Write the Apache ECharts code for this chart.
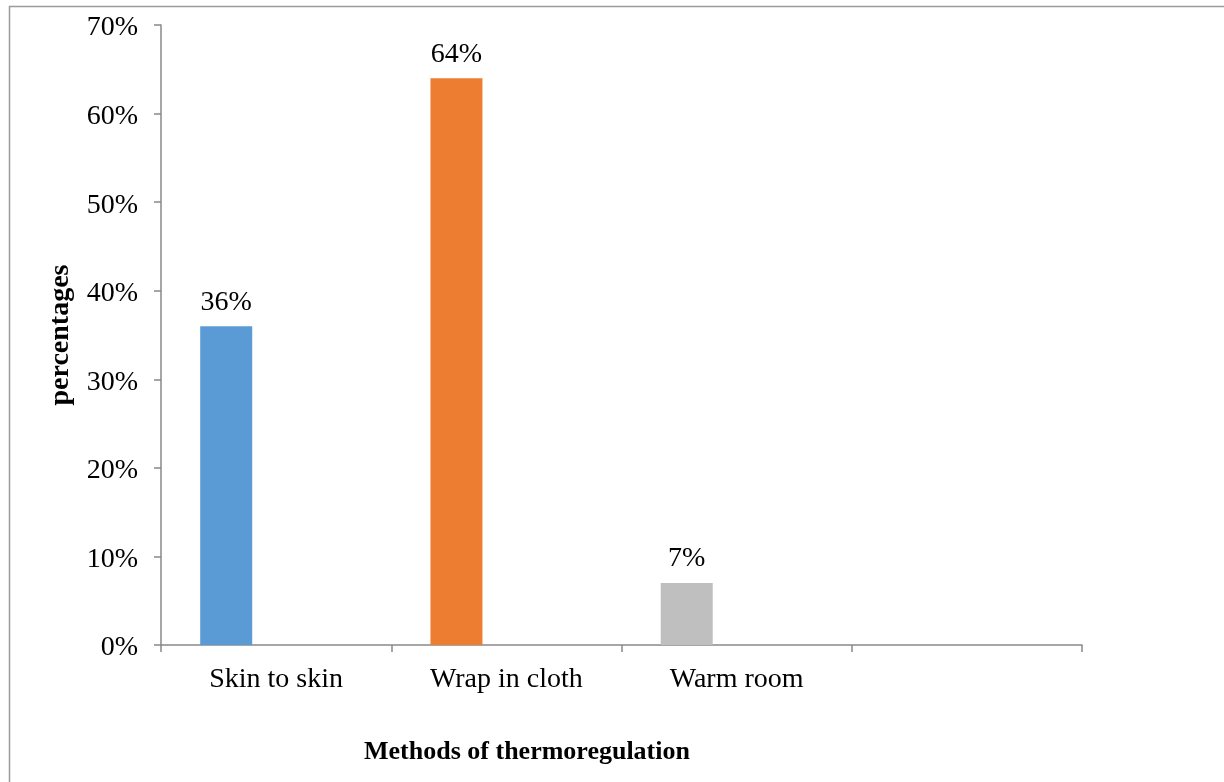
<!DOCTYPE html>
<html>
<head>
<meta charset="utf-8">
<script src="https://cdn.jsdelivr.net/npm/echarts@6/dist/echarts.min.js"></script>
<style>
  html, body { margin: 0; padding: 0; background: #fff; }
  #chart { width: 1224px; height: 782px; }
</style>
</head>
<body>
<div id="chart"></div>
<script>
// Share of respondents by method of thermoregulation
const categories = ['Skin to skin', 'Wrap in cloth', 'Warm room', ''];
const percentages = [36, 64, 7, null];
const barColors = ['#5B9BD5', '#ED7D31', '#BFBFBF', '#5B9BD5'];
const yTicks = [0, 10, 20, 30, 40, 50, 60, 70];

const serif = "'Liberation Serif', 'Times New Roman', serif";
const axisGray = '#898989';

const chart = echarts.init(document.getElementById('chart'), null, { renderer: 'canvas' });

chart.setOption({
  backgroundColor: '#ffffff',
  animation: false,
  grid: { left: 161, right: 142, top: 25, bottom: 137, containLabel: false },
  graphic: [
    {
      type: 'rect',
      shape: { x: 9.5, y: 6.5, width: 1400, height: 1000 },
      style: { fill: 'none', stroke: '#9c9c9c', lineWidth: 1.5 },
      silent: true
    },
    {
      type: 'text',
      x: 527,
      y: 752,
      style: {
        text: 'Methods of thermoregulation',
        font: 'bold 26px ' + serif,
        fill: '#000',
        textAlign: 'center',
        textVerticalAlign: 'middle'
      }
    }
  ],
  xAxis: {
    type: 'category',
    data: categories,
    boundaryGap: true,
    axisLine: { lineStyle: { color: axisGray, width: 1.5 } },
    axisTick: { show: true, alignWithLabel: false, length: 7, lineStyle: { color: axisGray, width: 1.5 } },
    axisLabel: { color: '#000', fontFamily: serif, fontSize: 28, margin: 21, interval: 0 },
    splitLine: { show: false }
  },
  yAxis: {
    type: 'value',
    min: yTicks[0],
    max: yTicks[yTicks.length - 1],
    interval: 10,
    name: 'percentages',
    nameLocation: 'middle',
    nameGap: 86,
    nameRotate: 90,
    nameTextStyle: { color: '#000', fontFamily: serif, fontSize: 28, fontWeight: 'bold' },
    axisLine: { show: true, lineStyle: { color: axisGray, width: 1.5 } },
    axisTick: { show: true, length: 7, lineStyle: { color: axisGray, width: 1.5 } },
    axisLabel: {
      margin: 23,
      formatter: v => '{t|' + v + '%}',
      rich: {
        t: { color: '#000', fontFamily: serif, fontSize: 28, padding: [6, 0, 0, 0] }
      }
    },
    splitLine: { show: false }
  },
  series: [
    {
      type: 'bar',
      barWidth: 52,
      barGap: '92%',
      data: percentages.map((v, i) => ({ value: v, itemStyle: { color: barColors[i] } })),
      label: {
        show: true,
        position: 'top',
        distance: 10,
        color: '#000',
        fontFamily: serif,
        fontSize: 28,
        formatter: p => p.value + '%'
      }
    },
    {
      type: 'bar',
      barWidth: 52,
      data: categories.map(() => null)
    }
  ]
});
</script>
</body>
</html>
